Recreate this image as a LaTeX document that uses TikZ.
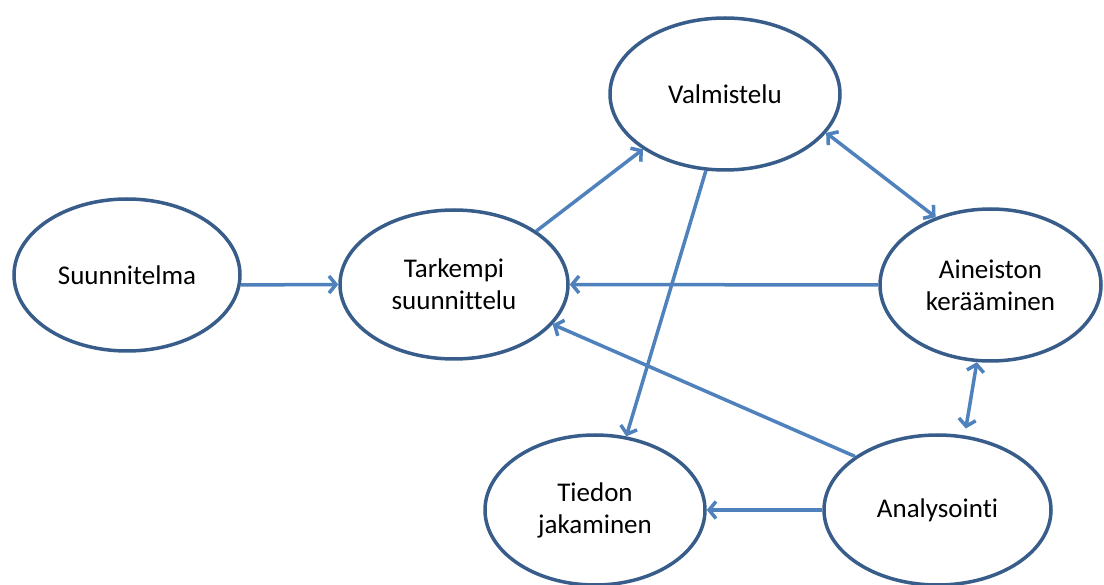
\documentclass[tikz,border=0pt]{standalone}
\usepackage{fontspec}
\setmainfont{Carlito}[Ligatures=CommonOff]
\usetikzlibrary{shapes.geometric,arrows.meta}
\definecolor{ebord}{HTML}{385D8A}
\definecolor{arr}{HTML}{4F81BD}
\begin{document}
\begin{tikzpicture}[x=1pt,y=-1pt,
  stage/.style={ellipse, draw=ebord, line width=3.5pt, fill=white, inner sep=0pt, align=center, font=\fontsize{27}{32}\selectfont},
  link/.style={draw=arr, line width=3.5pt, -{Straight Barb[length=7pt,width=17pt]}},
  both/.style={draw=arr, line width=3.5pt, {Straight Barb[length=7pt,width=17pt]}-{Straight Barb[length=7pt,width=17pt]}}]
\useasboundingbox (0,0) rectangle (1104,585);
\node[stage, minimum width=226pt, minimum height=152pt] (suun) at (127,275) {Suunnitelma};
\node[stage, minimum width=228pt, minimum height=149pt] (tark) at (454,284.5) {Tarkempi\\suunnittelu};
\node[stage, minimum width=230pt, minimum height=152pt] (valm) at (725,94) {Valmistelu};
\node[stage, minimum width=221pt, minimum height=152pt] (aine) at (990.5,285) {Aineiston\\kerääminen};
\node[stage, minimum width=220pt, minimum height=150pt] (tied) at (595,510) {Tiedon\\jakaminen};
\node[stage, minimum width=227pt, minimum height=150pt] (anal) at (937.5,510) {Analysointi};
\draw[link] (suun.-5) -- (tark.west);
\draw[link] (tark.33) -- (valm.214);
\draw[link] (valm.256) -- (tied.67);
\draw[both] (valm.339) -- (aine.129);
\draw[link] (aine.west) -- (tark.east);
\draw[link] (anal.147) -- (tark.338);
\draw[link] (anal.west) -- (tied.east);
\draw[both, shorten <=7pt] (anal.70) -- (aine.260);
\end{tikzpicture}
\end{document}
